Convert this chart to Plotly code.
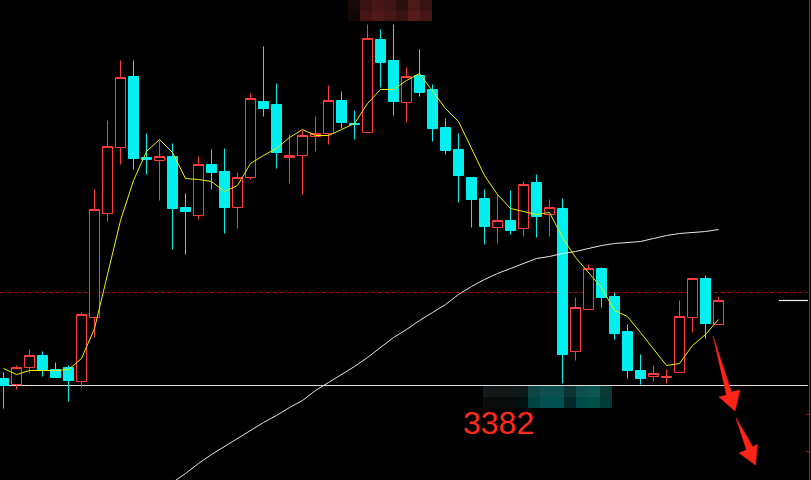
import plotly.graph_objects as go

W, H = 811, 480

# ---- data (price units) ----
idx = list(range(56))
opens = [3389, 3383, 3400, 3412, 3398, 3400, 3386, 3450, 3554, 3620,
         3691, 3610, 3607, 3611, 3560, 3552, 3603, 3596, 3560, 3590,
         3666, 3663, 3610, 3612, 3631, 3634, 3667, 3644, 3635, 3728,
         3707, 3665, 3692, 3678, 3640, 3618, 3590, 3569, 3540, 3547,
         3539, 3585, 3553, 3559, 3416, 3458, 3499, 3471, 3436, 3397,
         3391, 3390, 3395, 3450, 3489, 3443]
highs = [3395, 3402, 3418, 3416, 3405, 3402, 3455, 3578, 3647, 3707,
         3707, 3634, 3627, 3624, 3574, 3611, 3618, 3619, 3595, 3674,
         3721, 3684, 3633, 3637, 3651, 3682, 3676, 3657, 3743, 3738,
         3743, 3700, 3718, 3683, 3649, 3634, 3590, 3578, 3573, 3577,
         3586, 3593, 3568, 3569, 3470, 3503, 3500, 3475, 3443, 3413,
         3402, 3398, 3467, 3489, 3492, 3471]
lows = [3359, 3378, 3394, 3391, 3390, 3366, 3380, 3430, 3546, 3603,
        3598, 3593, 3567, 3518, 3513, 3548, 3578, 3534, 3539, 3588,
        3651, 3599, 3584, 3573, 3616, 3623, 3639, 3628, 3635, 3680,
        3652, 3645, 3671, 3626, 3613, 3565, 3540, 3523, 3524, 3533,
        3531, 3530, 3531, 3384, 3407, 3458, 3460, 3428, 3389, 3383,
        3386, 3384, 3395, 3435, 3429, 3443]
closes = [3382, 3400, 3412, 3398, 3390, 3387, 3453, 3558, 3621, 3690,
          3609, 3608, 3611, 3559, 3556, 3603, 3595, 3560, 3590, 3669,
          3659, 3615, 3612, 3632, 3634, 3667, 3645, 3643, 3729, 3705,
          3666, 3691, 3675, 3639, 3617, 3592, 3568, 3541, 3547, 3537,
          3583, 3551, 3560, 3413, 3460, 3499, 3470, 3434, 3397, 3389,
          3394, 3391, 3451, 3489, 3444, 3467]
ma_short = [3399, 3393, 3397, 3397, 3397, 3398, 3409, 3439, 3492, 3547,
            3587, 3616, 3628, 3615, 3589, 3588, 3586, 3576, 3582, 3604,
            3612, 3619, 3630, 3638, 3632, 3632, 3638, 3644, 3664, 3678,
            3678, 3687, 3694, 3677, 3659, 3646, 3619, 3592, 3573, 3559,
            3556, 3553, 3555, 3530, 3510, 3495, 3480, 3457, 3451, 3435,
            3419, 3402, 3404, 3422, 3433, 3448]
ma_long_idx = list(range(12, 56))
ma_long = [3275, 3285, 3294, 3304, 3313, 3321, 3329, 3337, 3345, 3352,
           3360, 3367, 3377, 3385, 3393, 3401, 3410, 3420, 3430, 3438,
           3447, 3455, 3463, 3473, 3481, 3488, 3494, 3499, 3504, 3509,
           3511, 3514, 3516, 3519, 3522, 3524, 3525, 3526, 3529, 3532,
           3534, 3535, 3536, 3538]
support_level = 3382
dashed_level = 3475
last_price = 3467
label_text = "3382"

RED = "#FF3C3C"
CYAN = "#00F0F0"

fig = go.Figure()
fig.add_trace(go.Candlestick(
    x=idx, open=opens, high=highs, low=lows, close=closes,
    increasing=dict(line=dict(color=RED, width=1), fillcolor="#000000"),
    decreasing=dict(line=dict(color=CYAN, width=1), fillcolor=CYAN),
    whiskerwidth=0, showlegend=False, hoverinfo="skip"))
fig.add_trace(go.Scatter(x=ma_long_idx, y=ma_long, mode="lines",
                         line=dict(color="#E8E8E8", width=1), showlegend=False, hoverinfo="skip"))
fig.add_trace(go.Scatter(x=idx, y=ma_short, mode="lines",
                         line=dict(color="#F0F000", width=1), showlegend=False, hoverinfo="skip"))


def px(x):
    return x / W


def py(y):
    return 1 - y / H


shapes = []
# horizontal reference lines
shapes.append(dict(type="line", xref="paper", yref="y", x0=0, x1=px(808), y0=support_level, y1=support_level,
                   line=dict(color="#DCDCDC", width=1.2), layer="below"))
shapes.append(dict(type="line", xref="paper", yref="y", x0=0, x1=px(808), y0=dashed_level, y1=dashed_level,
                   line=dict(color="#A80000", width=1, dash="4px,3px"), layer="below"))
shapes.append(dict(type="line", xref="paper", yref="y", x0=px(779), x1=px(808), y0=last_price, y1=last_price,
                   line=dict(color="#F0F0F0", width=1.2)))
# right red border with ticks
shapes.append(dict(type="line", xref="paper", yref="paper", x0=px(809.5), x1=px(809.5), y0=0, y1=1,
                   line=dict(color="#B42020", width=1)))
for ty in (414.5, 451.5):
    shapes.append(dict(type="line", xref="paper", yref="paper", x0=px(806.5), x1=px(809.5), y0=py(ty), y1=py(ty),
                       line=dict(color="#B42020", width=1)))


def poly(points, color):
    d = "M " + " L ".join(f"{px(a):.5f},{py(b):.5f}" for a, b in points) + " Z"
    return dict(type="path", xref="paper", yref="paper", path=d, fillcolor=color,
                line=dict(color=color, width=0.5))


ARROW = "#FF2418"
shapes.append(poly([(713, 336), (731.5, 392), (740, 390), (735, 411), (719, 397), (726.5, 395)], ARROW))
shapes.append(poly([(736, 418), (753, 447), (757.5, 444), (755.5, 465), (739, 453), (746.5, 450)], ARROW))

# mosaic blocks (blurred regions)
top_cols = [348, 360, 372, 384, 396, 408, 420, 432]
top_row1 = ["#160909", "#3c1313", "#4a1717", "#3e1414", "#2c0f0f", "#4c1818", "#3c1313"]
top_row2 = ["#120707", "#461515", "#521919", "#461717", "#3a1414", "#561b1b", "#461515"]
for k in range(7):
    shapes.append(dict(type="rect", xref="paper", yref="paper", x0=px(top_cols[k]), x1=px(top_cols[k + 1]),
                       y0=py(11), y1=py(0), fillcolor=top_row1[k], line=dict(width=0)))
    shapes.append(dict(type="rect", xref="paper", yref="paper", x0=px(top_cols[k]), x1=px(top_cols[k + 1]),
                       y0=py(21), y1=py(11), fillcolor=top_row2[k], line=dict(width=0)))
bot_cols = [483, 516, 528, 540, 564, 576, 588, 600, 612]
bot_row1 = ["#151818", "#10191b", "#0e4646", "#0e5050", "#0c3434", "#0e5050", "#0a5650", "#0a3a34"]
bot_row2 = ["#0a0c0c", "#021010", "#004444", "#005050", "#002828", "#004a4a", "#005048", "#003a34"]
for k in range(8):
    shapes.append(dict(type="rect", xref="paper", yref="paper", x0=px(bot_cols[k]), x1=px(bot_cols[k + 1]),
                       y0=py(397), y1=py(386), fillcolor=bot_row1[k], line=dict(width=0)))
    shapes.append(dict(type="rect", xref="paper", yref="paper", x0=px(bot_cols[k]), x1=px(bot_cols[k + 1]),
                       y0=py(408), y1=py(397), fillcolor=bot_row2[k], line=dict(width=0)))

fig.update_layout(
    width=W, height=H,
    margin=dict(l=0, r=0, t=0, b=0),
    paper_bgcolor="#000000", plot_bgcolor="#000000",
    showlegend=False, boxgap=0.23, boxgroupgap=0,
    xaxis=dict(range=[-0.26923, 62.1154], visible=False, rangeslider=dict(visible=False), fixedrange=True),
    yaxis=dict(range=[3287.5, 3767.5], visible=False, fixedrange=True),
    shapes=shapes,
    annotations=[dict(text=label_text, xref="paper", yref="paper", x=px(498.5), y=py(423),
                      xanchor="center", yanchor="middle", showarrow=False,
                      font=dict(family="Liberation Sans, Arial, sans-serif", size=32, color="#FF2A1F"))],
)

fig.write_html("out.html", config={"displayModeBar": False},
               post_script="document.body.style.margin='0';document.body.style.background='#000';")
